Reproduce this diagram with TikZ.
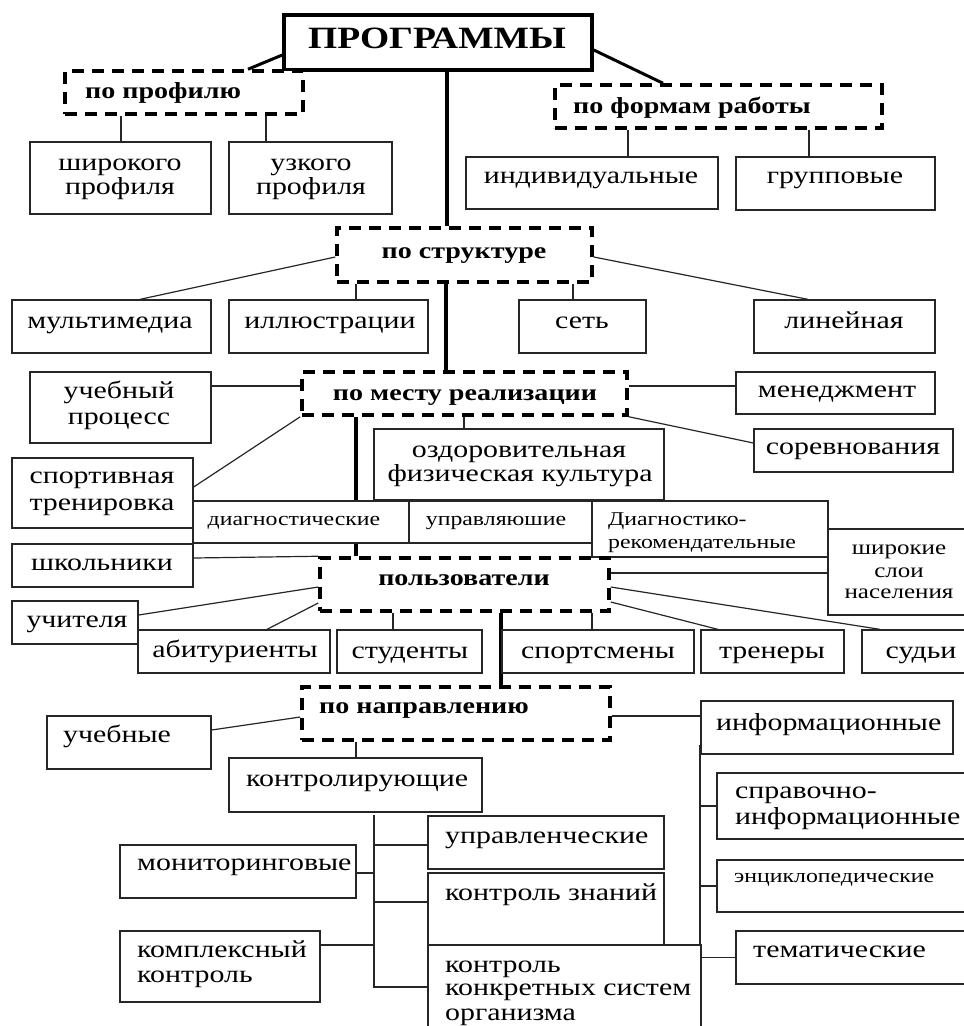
\documentclass[tikz,border=0pt]{standalone}
\usepackage{fontspec}
\setmainfont{Liberation Serif}
\usetikzlibrary{fit}
\pgfdeclarelayer{bg}
\pgfsetlayers{bg,main}
\tikzset{
 box/.style={draw=black!85, line width=1.3pt, fill=white, inner sep=0pt},
 dbox/.style={draw=black, line width=3.5pt, dash pattern=on 12pt off 8pt, fill=white, inner sep=0pt},
 tbox/.style={draw=black, line width=3.5pt, fill=white, inner sep=0pt},
 cn/.style={line width=1.2pt, draw=black!85},
 thk/.style={line width=4pt, draw=black},
 txt/.style={inner sep=0pt, anchor=base, font=\fontsize{24.5}{24.5}\selectfont},
 txtl/.style={txt, anchor=base west},
 sm/.style={inner sep=0pt, anchor=base, font=\fontsize{19.5}{19.5}\selectfont},
 sml/.style={sm, anchor=base west},
 sl/.style={inner sep=0pt, anchor=base, font=\fontsize{20.5}{20.5}\selectfont},
 hd/.style={inner sep=0pt, anchor=base, font=\fontsize{23}{23}\selectfont\bfseries},
 hdl/.style={hd, anchor=base west},
}
\newcommand\B[6]{\node[#1, fit={(#3,#4)(#5,#6)}] (#2) {};}
\newcommand\T[5]{\node[#1] (#2) at (#3,#4) {\scalebox{1.22}[1]{#5}};}
\begin{document}
\begin{tikzpicture}[x=1pt,y=-1pt]
\useasboundingbox (0,0) rectangle (964,1026);
% boxes
\B{tbox}{title}{284}{15}{592}{70}
\B{dbox}{prof}{65}{71}{303}{114}
\B{dbox}{forms}{555}{85}{882}{128}
\B{box}{shir}{30}{142}{211}{214}
\B{box}{uzk}{229}{142}{392}{214}
\B{box}{ind}{466}{157}{718}{209}
\B{box}{grp}{736}{157}{935}{210}
\B{dbox}{str}{337}{228}{592}{282}
\B{box}{mult}{12}{300}{211}{353}
\B{box}{ill}{229}{300}{428}{353}
\B{box}{set}{519}{300}{646}{353}
\B{box}{lin}{754}{300}{935}{353}
\B{dbox}{mesto}{302}{372}{627}{415}
\B{box}{ucheb}{30}{372}{211}{443}
\B{box}{men}{736}{372}{935}{414}
\B{box}{sor}{754}{429}{953}{472}
\B{box}{ozd}{374}{429}{664}{500}
\B{box}{sport}{12}{458}{193}{528}
\B{box}{diag}{193}{501}{409}{543}
\B{box}{upr}{409}{501}{592}{543}
\B{box}{dr}{592}{501}{828}{557}
\B{box}{shk}{12}{544}{193}{587}
\B{box}{shsl}{828}{529}{975}{615}
\B{dbox}{polz}{320}{558}{609}{611}
\B{box}{uch}{12}{601}{138}{644}
\B{box}{abit}{138}{630}{330}{673}
\B{box}{stud}{337}{630}{482}{673}
\B{box}{spm}{502}{630}{694}{673}
\B{box}{tren}{701}{630}{844}{673}
\B{box}{sud}{862}{630}{980}{673}
\B{dbox}{napr}{302}{687}{610}{740}
\B{box}{uchebn}{47}{716}{211}{769}
\B{box}{kontr}{229}{758}{482}{812}
\B{box}{inf}{701}{701}{953}{754}
\B{box}{spr}{717}{773}{980}{839}
\B{box}{enc}{717}{860}{980}{912}
\B{box}{tem}{736}{931}{980}{984}
\B{box}{uprav}{428}{816}{664}{869}
\B{box}{kz}{428}{873}{664}{945}
\B{box}{kks}{428}{945}{701}{1045}
\B{box}{mon}{120}{845}{356}{898}
\B{box}{kk}{120}{931}{320}{1002}
% texts
\node[inner sep=0pt, anchor=base, font=\fontsize{31}{31}\selectfont\bfseries] (tt) at (437,48) {\scalebox{1.21}[1]{ПРОГРАММЫ}};
\T{hdl}{t1}{85}{98}{по профилю}
\T{hdl}{t2}{573}{113}{по формам работы}
\T{hd}{t3}{464}{258}{по структуре}
\T{hd}{t4}{465}{400}{по месту реализации}
\T{hd}{t5}{464}{585}{пользователи}
\T{hdl}{t6}{319}{713}{по направлению}
\T{txt}{t7}{120}{170}{широкого}
\T{txt}{t8}{120}{194}{профиля}
\T{txt}{t9}{311}{170}{узкого}
\T{txt}{t10}{311}{194}{профиля}
\T{txt}{t11}{591}{183}{индивидуальные}
\T{txt}{t12}{835}{183}{групповые}
\T{txt}{t13}{110}{328}{мультимедиа}
\T{txt}{t14}{330}{328}{иллюстрации}
\T{txt}{t15}{582}{328}{сеть}
\T{txt}{t16}{844}{328}{линейная}
\T{txt}{t17}{119}{398}{учебный}
\T{txt}{t18}{119}{424}{процесс}
\T{txt}{t19}{837}{397}{менеджмент}
\T{txt}{t20}{853}{454}{соревнования}
\T{txt}{t21}{519}{457}{оздоровительная}
\T{txt}{t22}{520}{481}{физическая культура}
\T{txt}{t23}{102}{483}{спортивная}
\T{txt}{t24}{102}{510}{тренировка}
\T{sm}{t25}{294}{525}{диагностические}
\T{sm}{t26}{496}{525}{управляюшие}
\T{sml}{t27}{608}{525}{Диагностико-}
\T{sml}{t28}{608}{548}{рекомендательные}
\T{txt}{t29}{102}{570}{школьники}
\T{sl}{t30}{899}{554}{широкие}
\T{sl}{t31}{899}{577}{слои}
\T{sl}{t32}{899}{598}{населения}
\T{txt}{t33}{77}{627}{учителя}
\T{txt}{t34}{235}{657}{абитуриенты}
\T{txt}{t35}{410}{658}{студенты}
\T{txt}{t36}{598}{658}{спортсмены}
\T{txt}{t37}{772}{658}{тренеры}
\T{txt}{t38}{921}{658}{судьи}
\T{txtl}{t39}{63}{742}{учебные}
\T{txtl}{t40}{246}{786}{контролирующие}
\T{txtl}{t41}{716}{730}{информационные}
\T{txtl}{t42}{735}{798}{справочно-}
\T{txtl}{t43}{735}{824}{информационные}
\T{sml}{t44}{734}{882}{энциклопедические}
\T{txtl}{t45}{753}{957}{тематические}
\T{txtl}{t46}{445}{843}{управленческие}
\T{txtl}{t47}{445}{900}{контроль знаний}
\T{txtl}{t48}{445}{972}{контроль}
\T{txtl}{t49}{445}{995}{конкретных систем}
\T{txtl}{t50}{445}{1020}{организма}
\T{txtl}{t51}{137}{870}{мониторинговые}
\T{txtl}{t52}{137}{957}{комплексный}
\T{txtl}{t53}{137}{982}{контроль}
% connectors
\begin{pgfonlayer}{bg}
\draw[line width=3pt] (title.west |- 0,55) -- (prof.north -| 248,0);
\draw[line width=3pt] (title.east |- 0,50) -- (forms.north -| 663,0);
\draw[thk] (title.south -| 447,0) -- (str.north -| 447,0);
\draw[cn] (prof.south -| 121,0) -- (shir.north -| 121,0);
\draw[cn] (prof.south -| 266,0) -- (uzk.north -| 266,0);
\draw[cn] (forms.south -| 628,0) -- (ind.north -| 628,0);
\draw[cn] (forms.south -| 809,0) -- (grp.north -| 809,0);
\draw[cn] (mult.north -| 140,0) -- (str.west |- 0,257);
\draw[cn] (str.south -| 356,0) -- (ill.north -| 356,0);
\draw[cn] (str.south -| 573,0) -- (set.north -| 573,0);
\draw[cn] (lin.north -| 808,0) -- (str.east |- 0,257);
\draw[thk] (str.south -| 446,0) -- (mesto.north -| 446,0);
\draw[cn] (ucheb.east |- 0,386) -- (mesto.west |- 0,386);
\draw[cn] (sport.east |- 0,487) -- (mesto.south west);
\draw[cn] (mesto.east |- 0,386) -- (men.west |- 0,386);
\draw[cn] (mesto.south east) -- (sor.west |- 0,443);
\draw[cn] (mesto.south -| 464,0) -- (ozd.north -| 464,0);
\draw[thk] (mesto.south -| 356,0) -- (polz.north -| 356,0);
\draw[cn] (shk.east |- 0,558) -- (polz.north west);
\draw[cn] (polz.east |- 0,573) -- (shsl.west |- 0,573);
\draw[cn] (uch.east |- 0,615) -- (polz.west |- 0,587);
\draw[cn] (abit.north -| 267,0) -- (polz.west |- 0,603);
\draw[cn] (polz.south -| 393,0) -- (stud.north -| 393,0);
\draw[cn] (polz.south -| 592,0) -- (spm.north -| 592,0);
\draw[cn] (tren.north -| 718,0) -- (polz.east |- 0,602);
\draw[cn] (sud.north -| 880,0) -- (polz.east |- 0,587);
\draw[thk] (polz.south -| 501,0) -- (napr.north -| 501,0);
\draw[cn] (uchebn.east |- 0,730) -- (napr.west |- 0,717);
\draw[cn] (napr.south -| 356,0) -- (kontr.north -| 356,0);
\draw[cn] (napr.east |- 0,716) -- (inf.west |- 0,716);
% right tree
\coordinate (rt) at (700,745);
\draw[cn] (rt) -- (rt |- tem.west) -- (tem.west);
\draw[cn] (rt |- spr.west) -- (spr.west);
\draw[cn] (rt |- enc.west) -- (enc.west);
% left tree
\coordinate (lt) at (374,815);
\coordinate (lb) at (374,987);
\draw[cn] (lt) -- (lb) -- (kks.west |- lb);
\draw[cn] (lt |- 0,845) -- (uprav.west |- 0,845);
\draw[cn] (lt |- 0,902) -- (kz.west |- 0,902);
\draw[cn] (mon.east |- 0,873) -- (lt |- 0,873);
\draw[cn] (kk.east |- 0,945) -- (lt |- 0,945);
\end{pgfonlayer}
\end{tikzpicture}
\end{document}
